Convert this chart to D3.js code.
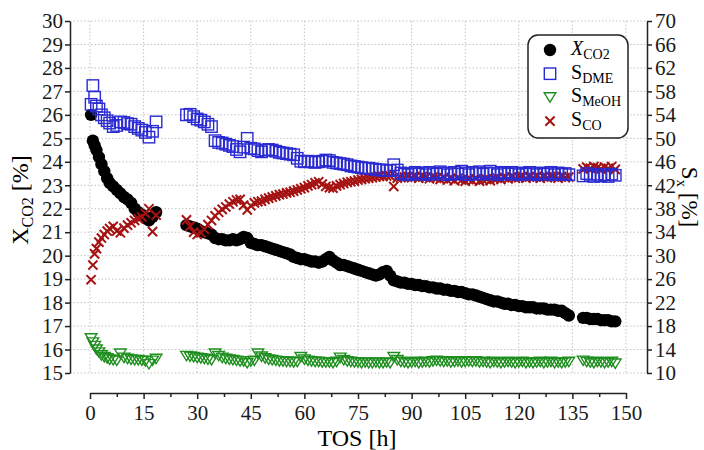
<!DOCTYPE html>
<html>
<head>
<meta charset="utf-8">
<script src="https://cdn.jsdelivr.net/npm/d3@7"></script>
<style>
    body { margin: 0; background: #fff; }
    .grid line { stroke: #c4c4c4; stroke-width: 1; stroke-dasharray: 1.5,2; }
    .axis path, .axis line { stroke: #222; stroke-width: 1.5; }
</style>
</head>
<body>
<div id="chart"></div>
<script>
// time on stream [h]
const tos = [
    0.3, 0.8, 1.3, 1.8, 2.5, 3.2, 4.0, 4.8, 5.5, 6.5, 7.5, 8.5, 9.5, 10.5, 11.5, 12.5, 13.5, 14.5, 15.5, 16.5, 17.5, 18.5,
    27, 28, 29, 30, 31, 32, 33, 34, 35, 36,
    37, 38, 39, 40, 41, 42, 43, 44, 45, 46,
    47, 48, 49, 50, 51, 52, 53, 54, 55, 56,
    57, 58, 59, 60, 61, 62, 63, 64, 65, 66,
    67, 68, 69, 70, 71, 72, 73, 74, 75, 76,
    77, 78, 79, 80, 81, 82, 83, 84, 85, 86,
    87, 88, 89, 90, 91, 92, 93, 94, 95, 96,
    97, 98, 99, 100, 101, 102, 103, 104, 105, 106,
    107, 108, 109, 110, 111, 112, 113, 114, 115, 116,
    117, 118, 119, 120, 121, 122, 123, 124, 125, 126,
    127, 128, 129, 130, 131, 132, 133, 134,
    138, 139, 140, 141, 142, 143, 144, 145, 146, 147
];

// CO2 conversion [%] (left axis)
const xCO2 = [
    26.0, 24.9, 24.7, 24.5, 24.2, 23.9, 23.6, 23.3, 23.1, 22.95, 22.8, 22.65, 22.5, 22.4, 22.25, 22.0, 21.85, 21.75, 21.6, 21.5, 21.65, 21.85,
    21.3, 21.25, 21.2, 21.15, 21.05, 21.0, 20.95, 20.9, 20.75, 20.7,
    20.7, 20.65, 20.65, 20.7, 20.65, 20.7, 20.8, 20.75, 20.55, 20.5,
    20.45, 20.45, 20.4, 20.35, 20.3, 20.25, 20.2, 20.15, 20.1, 20.05,
    19.95, 19.9, 19.85, 19.85, 19.8, 19.75, 19.75, 19.7, 19.75, 19.85,
    19.95, 19.8, 19.7, 19.6, 19.6, 19.55, 19.5, 19.45, 19.4, 19.35,
    19.3, 19.25, 19.2, 19.15, 19.2, 19.3, 19.35, 19.15, 18.95, 18.9,
    18.85, 18.85, 18.8, 18.8, 18.75, 18.75, 18.7, 18.7, 18.65, 18.65,
    18.6, 18.6, 18.55, 18.55, 18.5, 18.5, 18.45, 18.45, 18.4, 18.35,
    18.35, 18.3, 18.25, 18.2, 18.15, 18.1, 18.05, 18.05, 18.0, 17.95,
    17.95, 17.9, 17.9, 17.85, 17.85, 17.8, 17.8, 17.8, 17.75, 17.75,
    17.75, 17.7, 17.7, 17.7, 17.65, 17.65, 17.55, 17.45,
    17.35, 17.35, 17.3, 17.3, 17.3, 17.25, 17.25, 17.25, 17.2, 17.2
];

// selectivities [%] (right axis)
const sDME = [
    55.8, 59.0, 57.0, 55.5, 55.0, 54.0, 53.5, 53.0, 52.6, 52.0, 52.2, 52.8, 52.7, 52.5, 52.4, 52.0, 51.7, 51.4, 51.0, 50.2, 51.2, 52.8,
    54.0, 54.1, 53.7, 53.3, 53.1, 52.8, 52.4, 52.0, 49.6, 49.3,
    49.2, 49.0, 48.8, 48.6, 48.1, 47.7, 48.5, 50.0, 48.3, 48.2,
    47.9, 47.7, 48.0, 48.1, 48.0, 47.8, 47.6, 47.5, 47.4, 47.3,
    47.2, 46.6, 46.1, 46.0, 46.1, 46.0, 45.9, 46.0, 46.1, 46.3,
    46.2, 45.9, 45.8, 45.7, 45.6, 45.5, 45.3, 45.2, 45.1, 45.0,
    44.9, 44.9, 44.8, 44.7, 44.6, 44.6, 44.5, 44.5, 45.5, 44.6,
    44.1, 43.9, 43.8, 44.0, 44.2, 43.9, 44.1, 43.8, 44.2, 44.0,
    43.9, 44.3, 44.1, 43.8, 44.0, 44.2, 43.9, 44.4, 44.1, 43.8,
    44.2, 44.0, 44.3, 43.9, 44.1, 44.4, 44.0, 43.8, 44.2, 44.1,
    43.9, 44.2, 44.0, 43.8, 44.1, 43.9, 44.2, 44.0, 43.8, 44.1,
    43.9, 44.0, 44.2, 43.8, 44.1, 43.9, 44.0, 43.8,
    43.6, 44.0, 43.7, 43.5, 43.9, 43.6, 43.8, 43.5, 43.9, 43.7
];

const sMeOH = [
    15.9, 15.2, 14.6, 14.0, 13.5, 13.0, 12.7, 12.5, 12.3, 12.2, 12.1, 13.3, 12.6, 12.4, 12.3, 12.2, 12.2, 12.1, 12.0, 11.5, 12.1, 12.4,
    12.9, 12.8, 12.7, 12.6, 12.5, 12.4, 12.3, 12.2, 13.3, 12.9,
    12.6, 12.4, 12.3, 12.2, 12.1, 12.0, 12.0, 11.7, 12.0, 12.1,
    13.3, 12.8, 12.5, 12.3, 12.2, 12.1, 12.0, 12.0, 11.9, 11.9,
    11.8, 11.9, 12.7, 12.3, 12.1, 12.0, 11.9, 11.9, 11.8, 11.8,
    11.8, 11.7, 11.9, 12.6, 12.2, 12.0, 11.9, 11.8, 11.8, 11.7,
    11.8, 11.7, 11.7, 11.8, 11.7, 11.7, 11.8, 11.7, 12.7, 12.2,
    11.9, 11.8, 11.7, 11.8, 11.9, 11.7, 11.8, 11.9, 11.8, 12.0,
    12.1, 12.0, 11.9, 12.0, 11.8, 11.9, 12.0, 11.8, 11.9, 12.0,
    11.9, 12.0, 11.8, 11.9, 11.8, 11.7, 11.9, 11.8, 11.7, 11.8,
    11.9, 11.8, 11.7, 11.8, 11.9, 11.7, 11.8, 11.7, 11.8, 11.9,
    11.7, 11.8, 11.9, 11.7, 11.8, 11.7, 11.8, 11.9,
    12.1, 11.9, 11.8, 11.7, 11.9, 11.8, 11.7, 11.8, 11.9, 11.6
];

const sCO = [
    25.9, 28.4, 30.3, 31.2, 32.3, 33.0, 33.6, 34.2, 34.6, 35.0, 34.2, 33.9, 34.7, 35.2, 35.6, 36.0, 36.3, 36.6, 37.2, 38.0, 34.1, 36.9,
    36.1, 35.0, 34.0, 33.6, 33.9, 34.5, 35.3, 36.0, 36.8, 37.4,
    37.9, 38.3, 38.8, 39.2, 39.5, 39.6, 38.6, 37.8, 38.5, 39.0,
    39.2, 39.3, 39.6, 39.8, 40.0, 40.2, 40.4, 40.5, 40.7, 40.8,
    41.0, 41.2, 41.4, 41.6, 41.9, 42.1, 42.4, 42.6, 42.2, 41.8,
    41.6, 41.5, 41.9, 42.1, 42.3, 42.5, 42.6, 42.7, 42.9, 43.0,
    43.1, 43.2, 43.3, 43.4, 43.5, 43.5, 43.6, 43.6, 41.8, 43.2,
    43.3, 43.4, 43.5, 43.3, 43.4, 43.2, 43.5, 43.3, 43.1, 43.4,
    43.2, 43.0, 43.3, 42.9, 43.1, 42.8, 43.2, 42.9, 42.7, 43.0,
    42.8, 43.1, 42.7, 42.9, 43.0, 42.8, 43.1, 43.2, 43.0, 43.3,
    43.1, 43.4, 43.2, 43.3, 43.5, 43.2, 43.4, 43.3, 43.5, 43.2,
    43.4, 43.3, 43.5, 43.4, 43.2, 43.5, 43.3, 43.4,
    44.8, 45.1, 44.9, 45.2, 45.0, 44.8, 45.1, 44.9, 45.2, 44.7
];

const xTicks = [0, 15, 30, 45, 60, 75, 90, 105, 120, 135, 150];
const xMinorTicks = [7.5, 22.5, 37.5, 52.5, 67.5, 82.5, 97.5, 112.5, 127.5, 142.5];
const leftTicks = [15, 16, 17, 18, 19, 20, 21, 22, 23, 24, 25, 26, 27, 28, 29, 30];
const rightTicks = [10, 14, 18, 22, 26, 30, 34, 38, 42, 46, 50, 54, 58, 62, 66, 70];

const FONT = '"Liberation Serif", "Times New Roman", "DejaVu Serif", serif';
const width = 704, height = 450;
const plot = { left: 70, right: 647, top: 21, bottom: 373 };

const svg = d3.select('#chart').append('svg')
    .attr('width', width)
    .attr('height', height)
    .attr('font-family', FONT);

const x = d3.scaleLinear().domain([0, 150]).range([90, 626]);
const yL = d3.scaleLinear().domain([15, 30]).range([plot.bottom, plot.top]);
const yR = d3.scaleLinear().domain([10, 70]).range([plot.bottom, plot.top]);

// dotted grid
const grid = svg.append('g').attr('class', 'grid');
grid.selectAll('.hg').data(leftTicks).enter().append('line')
    .attr('x1', plot.left).attr('x2', plot.right)
    .attr('y1', d => yL(d)).attr('y2', d => yL(d));
grid.selectAll('.vg').data(xTicks).enter().append('line')
    .attr('x1', d => x(d)).attr('x2', d => x(d))
    .attr('y1', plot.top).attr('y2', plot.bottom);

// axes
function styleAxis(g) {
    g.attr('font-family', FONT).attr('font-size', 21);
    g.selectAll('text').attr('fill', '#1a1a1a');
}

svg.append('g').attr('class', 'axis')
    .attr('transform', `translate(${plot.left},0)`)
    .call(d3.axisLeft(yL).tickValues(leftTicks).tickSize(5).tickSizeOuter(0).tickPadding(2))
    .call(styleAxis);

svg.append('g').attr('class', 'axis')
    .attr('transform', `translate(${plot.right},0)`)
    .call(d3.axisRight(yR).tickValues(rightTicks).tickSize(5).tickSizeOuter(0).tickPadding(3))
    .call(styleAxis);

const xAxisY = 393;
svg.append('g').attr('class', 'axis')
    .attr('transform', `translate(0,${xAxisY})`)
    .call(d3.axisBottom(x).tickValues(xTicks).tickSize(6).tickSizeOuter(0).tickPadding(6))
    .call(styleAxis);
svg.append('g').attr('class', 'axis minor')
    .attr('transform', `translate(0,${xAxisY})`)
    .call(d3.axisBottom(x).tickValues(xMinorTicks).tickSize(4).tickSizeOuter(0).tickFormat(''))
    .select('.domain').remove();

// axis titles
const yTitle = svg.append('text')
    .attr('transform', `translate(28,${(plot.top + plot.bottom) / 2 + 3}) rotate(-90)`)
    .attr('text-anchor', 'middle')
    .attr('font-size', 24);
yTitle.append('tspan').text('X');
yTitle.append('tspan').attr('dy', 5).attr('font-size', 16).text('CO2');
yTitle.append('tspan').attr('dy', -5).text(' [%]');

const rTitle = svg.append('text')
    .attr('transform', `translate(682,${(plot.top + plot.bottom) / 2}) rotate(90)`)
    .attr('text-anchor', 'middle')
    .attr('font-size', 23);
rTitle.append('tspan').text('S');
rTitle.append('tspan').attr('dy', 5).attr('font-size', 15).text('x');
rTitle.append('tspan').attr('dy', -5).text(' [%]');

svg.append('text')
    .attr('x', 357).attr('y', 446)
    .attr('text-anchor', 'middle')
    .attr('font-size', 24)
    .text('TOS [h]');

// markers
const rows = tos.map((t, i) => ({ t, xco2: xCO2[i], dme: sDME[i], meoh: sMeOH[i], co: sCO[i] }));
const colors = { xco2: '#000', dme: '#2a2ad2', meoh: '#1f8f1f', co: '#a51212' };
const triPath = 'M-5.8,-4.6L5.8,-4.6L0,4.8Z';
const crossPath = 'M-4.6,-4.6L4.6,4.6M-4.6,4.6L4.6,-4.6';

svg.append('g').selectAll('circle').data(rows).enter().append('circle')
    .attr('cx', d => x(d.t)).attr('cy', d => yL(d.xco2))
    .attr('r', 6.2).attr('fill', colors.xco2);

svg.append('g').selectAll('path').data(rows).enter().append('path')
    .attr('d', crossPath)
    .attr('transform', d => `translate(${x(d.t)},${yR(d.co)})`)
    .attr('fill', 'none').attr('stroke', colors.co).attr('stroke-width', 2);

svg.append('g').selectAll('path').data(rows).enter().append('path')
    .attr('d', triPath)
    .attr('transform', d => `translate(${x(d.t)},${yR(d.meoh)})`)
    .attr('fill', 'none').attr('stroke', colors.meoh).attr('stroke-width', 1.4);

svg.append('g').selectAll('rect').data(rows).enter().append('rect')
    .attr('x', d => x(d.t) - 5.7).attr('y', d => yR(d.dme) - 5.7)
    .attr('width', 11.4).attr('height', 11.4)
    .attr('fill', 'none').attr('stroke', colors.dme).attr('stroke-width', 1.4);

// legend
const legend = svg.append('g');
legend.append('rect')
    .attr('x', 528).attr('y', 35).attr('width', 100).attr('height', 103)
    .attr('rx', 10).attr('ry', 10)
    .attr('fill', '#fff').attr('stroke', '#222').attr('stroke-width', 1.5);

const legendItems = [
    { key: 'xco2', main: 'X', sub: 'CO2', italic: true },
    { key: 'dme', main: 'S', sub: 'DME' },
    { key: 'meoh', main: 'S', sub: 'MeOH' },
    { key: 'co', main: 'S', sub: 'CO' }
];
legendItems.forEach((item, i) => {
    const cy = 50 + i * 23.7;
    if (item.key === 'xco2') {
        legend.append('circle').attr('cx', 550).attr('cy', cy).attr('r', 6.2).attr('fill', colors.xco2);
    } else if (item.key === 'dme') {
        legend.append('rect').attr('x', 544.3).attr('y', cy - 5.7).attr('width', 11.4).attr('height', 11.4)
            .attr('fill', 'none').attr('stroke', colors.dme).attr('stroke-width', 1.4);
    } else if (item.key === 'meoh') {
        legend.append('path').attr('d', triPath).attr('transform', `translate(550,${cy})`)
            .attr('fill', 'none').attr('stroke', colors.meoh).attr('stroke-width', 1.4);
    } else {
        legend.append('path').attr('d', crossPath).attr('transform', `translate(550,${cy})`)
            .attr('fill', 'none').attr('stroke', colors.co).attr('stroke-width', 2);
    }
    const txt = legend.append('text').attr('x', 571).attr('y', cy + 5).attr('font-size', 20);
    txt.append('tspan').attr('font-style', item.italic ? 'italic' : 'normal').text(item.main);
    txt.append('tspan').attr('dy', 4).attr('font-size', 14).text(item.sub);
});
</script>
</body>
</html>
